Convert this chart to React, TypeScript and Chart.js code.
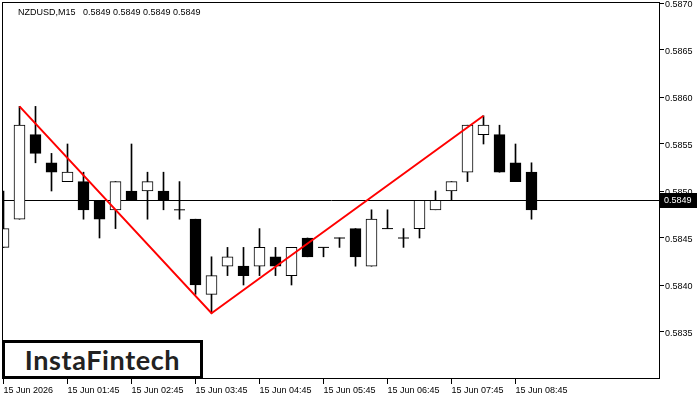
import React, { useEffect, useRef } from "react";
import { Chart, registerables } from "chart.js";

Chart.register(...registerables);

// ---- data (M15 candles, index 0 = 15 Jun 00:45) ----
const opens = [0.5844, 0.5847, 0.5856, 0.5853, 0.5851, 0.5851, 0.5849, 0.5848, 0.585, 0.585, 0.585, 0.5848, 0.5847, 0.5839, 0.5842, 0.5842, 0.5842, 0.5843, 0.5841, 0.5845, 0.5844, 0.5845, 0.5846, 0.5842, 0.5846, 0.5845, 0.5846, 0.5848, 0.585, 0.5852, 0.5856, 0.5856, 0.5853, 0.5852];
const highs = [0.585, 0.5859, 0.5859, 0.5854, 0.5855, 0.5852, 0.5849, 0.5851, 0.5855, 0.5852, 0.5852, 0.5851, 0.5847, 0.5843, 0.5844, 0.5844, 0.5846, 0.5844, 0.5844, 0.5845, 0.5844, 0.5845, 0.5846, 0.5848, 0.5848, 0.5846, 0.5849, 0.585, 0.5851, 0.5857, 0.5858, 0.5857, 0.5855, 0.5853];
const lows = [0.5844, 0.5847, 0.5853, 0.585, 0.5851, 0.5847, 0.5845, 0.5846, 0.5849, 0.5847, 0.5848, 0.5847, 0.5839, 0.5837, 0.5841, 0.584, 0.5841, 0.5841, 0.584, 0.5843, 0.5843, 0.5844, 0.5842, 0.5842, 0.5846, 0.5844, 0.5845, 0.5848, 0.5849, 0.5851, 0.5855, 0.5852, 0.5851, 0.5847];
const closes = [0.5846, 0.5857, 0.5854, 0.5852, 0.5852, 0.5848, 0.5847, 0.5851, 0.5849, 0.5851, 0.5849, 0.5848, 0.584, 0.5841, 0.5843, 0.5841, 0.5844, 0.5842, 0.5844, 0.5843, 0.5844, 0.5845, 0.5843, 0.5847, 0.5846, 0.5845, 0.5849, 0.5849, 0.5851, 0.5857, 0.5857, 0.5852, 0.5851, 0.5848];

// double-top / V pattern line (candle index, price)
const patternIdx = [1, 13, 30];
const patternPrice = [0.5859, 0.5837, 0.5858];

const xTickIdx = [0, 4, 8, 12, 16, 20, 24, 28, 32];
const xTickLabels = ["15 Jun 2026", "15 Jun 01:45", "15 Jun 02:45", "15 Jun 03:45", "15 Jun 04:45", "15 Jun 05:45", "15 Jun 06:45", "15 Jun 07:45", "15 Jun 08:45"];
const yTickValues = [0.5835, 0.584, 0.5845, 0.585, 0.5855, 0.586, 0.5865, 0.587];

const bidPrice = 0.5849;
const titleText = "NZDUSD,M15   0.5849 0.5849 0.5849 0.5849";
const logoText = "InstaFintech";

const FONT = "'Liberation Sans', Arial, sans-serif";

export default function App() {
  const canvasRef = useRef<HTMLCanvasElement | null>(null);

  useEffect(() => {
    document.body.style.margin = "0";
    const canvas = canvasRef.current;
    if (!canvas) return;

    const idx = opens.map((_, i) => i);
    const bodyIdx = idx.filter((i) => opens[i] !== closes[i]);
    const dojiIdx = idx.filter((i) => opens[i] === closes[i]);

    const zeroPad = (scale: any) => {
      scale.paddingLeft = 0;
      scale.paddingRight = 0;
      scale.paddingTop = 0;
      scale.paddingBottom = 0;
    };

    const framePlugin = {
      id: "frame",
      beforeDatasetsDraw(chart: any) {
        const { ctx, chartArea } = chart;
        const y = chart.scales.y.getPixelForValue(bidPrice);
        ctx.save();
        ctx.strokeStyle = "#000";
        ctx.lineWidth = 1;
        ctx.beginPath();
        ctx.moveTo(chartArea.left, Math.floor(y) + 0.5);
        ctx.lineTo(chartArea.right, Math.floor(y) + 0.5);
        ctx.stroke();
        ctx.restore();
      },
      afterDraw(chart: any) {
        const { ctx, chartArea } = chart;
        ctx.save();
        ctx.strokeStyle = "#000";
        ctx.lineWidth = 1;
        ctx.strokeRect(chartArea.left - 0.5, chartArea.top - 0.5, chartArea.right - chartArea.left, chartArea.bottom - chartArea.top);
        const y = Math.floor(chart.scales.y.getPixelForValue(bidPrice));
        ctx.fillStyle = "#000";
        ctx.fillRect(chartArea.right, y - 7, 37, 15);
        ctx.fillStyle = "#fff";
        ctx.font = "9px " + FONT;
        ctx.textBaseline = "middle";
        ctx.textAlign = "left";
        ctx.fillText(bidPrice.toFixed(4), chartArea.right + 4, y + 1);
        ctx.restore();
      },
    };

    const chart = new Chart(canvas, {
      type: "bar",
      data: {
        datasets: [
          {
            type: "line",
            data: patternIdx.map((x, j) => ({ x, y: patternPrice[j] })),
            borderColor: "#ff0000",
            borderWidth: 2,
            pointRadius: 0,
            fill: false,
            order: 0,
          } as any,
          {
            type: "line",
            data: dojiIdx.map((i) => ({ x: i, y: opens[i] })),
            showLine: false,
            pointStyle: "line",
            pointRadius: 5.5,
            pointBorderWidth: 1,
            pointBorderColor: "#000",
            borderColor: "#000",
            order: 1,
          } as any,
          {
            type: "bar",
            data: bodyIdx.map((i) => ({ x: i, y: [opens[i], closes[i]] })),
            backgroundColor: bodyIdx.map((i) => (closes[i] > opens[i] ? "#ffffff" : "#000000")),
            borderColor: "#000",
            borderWidth: 1,
            borderSkipped: false,
            barThickness: 11,
            grouped: false,
            order: 2,
          } as any,
          {
            type: "bar",
            data: idx.map((i) => ({ x: i, y: [lows[i], highs[i]] })),
            backgroundColor: "#000",
            borderWidth: 0,
            barThickness: 1,
            grouped: false,
            order: 3,
          } as any,
        ],
      },
      options: {
        animation: false,
        responsive: false,
        devicePixelRatio: 1,
        layout: { padding: { left: 3, top: 3, right: 0, bottom: 0 }, autoPadding: false },
        plugins: { legend: { display: false }, tooltip: { enabled: false } },
        scales: {
          x: {
            type: "linear",
            offset: false,
            min: -0.03125,
            max: 41.03125,
            afterBuildTicks: (scale: any) => {
              scale.ticks = xTickIdx.map((v) => ({ value: v }));
            },
            afterFit: (scale: any) => {
              scale.height = 21;
              zeroPad(scale);
            },
            ticks: {
              autoSkip: false,
              maxRotation: 0,
              minRotation: 0,
              align: "start",
              padding: 1,
              color: "#000",
              font: { family: FONT, size: 9 },
              callback: (_v: any, i: number) => xTickLabels[i] ?? "",
            },
            grid: { drawOnChartArea: false, drawTicks: true, tickLength: 5, color: "#000", offset: false },
            border: { display: false },
          },
          y: {
            type: "linear",
            position: "right",
            min: 0.583,
            max: 0.587,
            afterBuildTicks: (scale: any) => {
              scale.ticks = yTickValues.map((v) => ({ value: v }));
            },
            afterFit: (scale: any) => {
              scale.width = 40;
              zeroPad(scale);
            },
            ticks: {
              padding: 1,
              labelOffset: 1.5,
              color: "#000",
              font: { family: FONT, size: 9 },
              callback: (v: any) => Number(v).toFixed(4),
            },
            grid: { drawOnChartArea: false, drawTicks: true, tickLength: 4, color: "#000" },
            border: { display: false },
          },
        },
      } as any,
      plugins: [framePlugin],
    });

    return () => chart.destroy();
  }, []);

  return (
    <div style={{ position: "relative", width: 700, height: 400, background: "#fff" }}>
      <canvas ref={canvasRef} width={700} height={400} style={{ display: "block" }} />
      <div
        style={{
          position: "absolute",
          left: 18,
          top: 8,
          fontFamily: FONT,
          fontSize: 9,
          lineHeight: "9px",
          color: "#000",
          whiteSpace: "pre",
        }}
      >
        {titleText}
      </div>
      <div
        style={{
          position: "absolute",
          left: 2,
          top: 340,
          width: 201,
          height: 39,
          boxSizing: "border-box",
          border: "3px solid #000",
          background: "#fff",
          display: "flex",
          alignItems: "center",
          justifyContent: "center",
          fontFamily: "Lato, 'Open Sans', sans-serif",
          fontWeight: 700,
          fontSize: 27,
          letterSpacing: "0.6px",
          color: "#222",
          lineHeight: "1",
        }}
      >
        {logoText}
      </div>
    </div>
  );
}
